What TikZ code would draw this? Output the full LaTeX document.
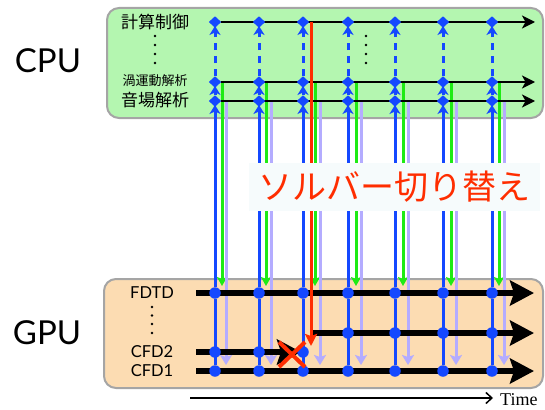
\documentclass[tikz,border=0pt]{standalone}
\usepackage{fontspec}
\setmainfont{Lato}
\newfontfamily\jpfont{Noto Sans CJK JP}
\newfontfamily\seriffont{Liberation Serif}
\usetikzlibrary{arrows.meta,shapes.geometric}
\pgfdeclarelayer{bg}
\pgfdeclarelayer{lines}
\pgfdeclarelayer{cover}
\pgfsetlayers{bg,lines,cover,main}
\definecolor{cpufill}{RGB}{180,246,176}
\definecolor{gpufill}{RGB}{252,220,178}
\definecolor{boxgray}{RGB}{165,165,165}
\definecolor{cblue}{RGB}{20,72,255}
\definecolor{cgreen}{RGB}{30,235,20}
\definecolor{clav}{RGB}{180,172,255}
\definecolor{cred}{RGB}{255,45,0}
\definecolor{coverfill}{RGB}{246,251,252}
\tikzset{
  panel/.style={draw=boxgray, line width=2pt, rounded corners=12pt},
  dia/.style={diamond, fill=cblue, inner sep=0pt, minimum width=12.5pt, minimum height=11.5pt},
  bdot/.style={circle, fill=cblue, inner sep=0pt, minimum size=11.5pt},
  cpuline/.style={black, line width=2pt, -{Stealth[length=13pt,width=13pt,inset=3.5pt]}},
  gpuline/.style={black, line width=6.5pt, -{Stealth[length=24pt,width=25pt,inset=4pt]}},
  blueline/.style={cblue, line width=3pt},
  bluearr/.style={cblue, line width=3pt, shorten >=-2pt, -{Stealth[length=9pt,width=11pt,inset=2.5pt]}},
  bluedash/.style={bluearr, dash pattern=on 7pt off 6pt},
  greenarr/.style={cgreen, line width=3pt, -{Stealth[length=9pt,width=10pt,inset=2pt]}},
  lavarr/.style={clav, line width=3pt, -{Stealth[length=10pt,width=12pt,inset=2pt]}},
  redarr/.style={cred, line width=3pt, -{Stealth[length=12pt,width=12pt,inset=2pt]}},
  timearr/.style={black, line width=1.5pt, -{Straight Barb[length=6pt,width=11pt]}},
  bigsans/.style={font=\fontsize{33}{36}\selectfont},
  gpulabel/.style={font=\fontsize{16.5}{18}\selectfont},
  jpbig/.style={font=\jpfont\fontsize{17}{19}\selectfont},
  jpsmall/.style={font=\jpfont\fontsize{13}{15}\selectfont},
  coverbox/.style={fill=coverfill, text=cred, inner sep=0pt, minimum width=291pt, minimum height=48pt, font=\jpfont\fontsize{34}{38}\selectfont},
  vdot/.style={circle, fill=black, inner sep=0pt, minimum size=2.8pt}
}
\begin{document}
\begin{tikzpicture}[x=1pt,y=-1pt]
\useasboundingbox (0,0) rectangle (545,409);
\begin{pgfonlayer}{bg}
  \draw[panel, fill=cpufill] (107,8) rectangle (543,118);
  \draw[panel, fill=gpufill] (104,279) rectangle (543,388);
\end{pgfonlayer}

% labels
\node[bigsans] (cpu) at (48,61) {CPU};
\node[bigsans] (gpu) at (47,333) {GPU};
\node[jpbig] (l1) at (155,22) {計算制御};
\node[jpsmall] (l2) at (155,81) {渦運動解析};
\node[jpbig] (l3) at (155,100) {音場解析};
\node[gpulabel] (fdtd) at (152,293) {FDTD};
\node[gpulabel] (cfd2) at (152,352) {CFD2};
\node[gpulabel] (cfd1) at (152,371) {CFD1};
\foreach \y [count=\k] in {36,45,54,63} {
  \node[vdot] (da\k) at (155,\y) {};
  \node[vdot] (db\k) at (366,\y) {};
}
\foreach \y [count=\k] in {307,315.5,324,333} {
  \node[vdot] (dc\k) at (152,\y) {};
}

% columns
\foreach \i/\x/\g/\l in {1/215/222/226,2/259/266/271,3/303/315/320,4/348/356/361,5/395/403/408,6/443/451/456,7/492/499/504}{
  \node[dia] (t\i) at (\x,22) {};
  \node[dia] (v\i) at (\x,82) {};
  \node[dia] (a\i) at (\x,101) {};
  \node[bdot] (f\i) at (\x,293) {};
  \node[bdot] (c\i) at (\x,371) {};
  \coordinate (gs\i) at (\g,81);
  \coordinate (ge\i) at (\g,286);
  \coordinate (ls\i) at (\l,101);
  \coordinate (le\i) at (\l,365);
  \begin{pgfonlayer}{lines}
    \draw[blueline] (f\i) -- (c\i);
    \draw[bluearr] (f\i) -- (a\i);
    \draw[bluearr] (a\i) -- (v\i);
    \draw[bluedash] (v\i) -- (t\i);
    \draw[greenarr] (gs\i) -- (ge\i);
    \draw[lavarr] (ls\i) -- (le\i);
  \end{pgfonlayer}
}
\foreach \i/\x in {1/215,2/259,3/303} \node[bdot] (m\i) at (\x,352) {};
\foreach \i/\x in {4/348,5/395,6/443,7/492} \node[bdot] (m\i) at (\x,333) {};

% black time lines
\coordinate (tend) at (535,22);
\coordinate (vend) at (535,82);
\coordinate (aend) at (535,101);
\coordinate (fs) at (196,293);
\coordinate (fe) at (534,293);
\coordinate (ms) at (313,333);
\coordinate (me) at (534,333);
\coordinate (c2s) at (196,352);
\coordinate (c2e) at (301,352);
\coordinate (c1s) at (196,371);
\coordinate (c1e) at (534,371);
\coordinate (rs) at (311,22);
\coordinate (re) at (311,346);
\begin{pgfonlayer}{lines}
  \draw[cpuline] (t1) -- (tend);
  \draw[cpuline] (v1) -- (vend);
  \draw[cpuline] (a1) -- (aend);
  \draw[gpuline] (fs) -- (fe);
  \draw[gpuline] (ms) -- (me);
  \draw[gpuline] (c2s) -- (c2e);
  \draw[gpuline] (c1s) -- (c1e);
  \draw[redarr] (rs) -- (re);
\end{pgfonlayer}

\begin{pgfonlayer}{cover}
  \node[coverbox] (switch) at (394.5,187) {ソルバー切り替え};
\end{pgfonlayer}

% red cross
\coordinate (x1) at (279,342);
\coordinate (x2) at (305,367);
\coordinate (x3) at (279,367);
\coordinate (x4) at (305,342);
\draw[cred, line width=4pt] (x1) -- (x2);
\draw[cred, line width=4pt] (x3) -- (x4);

% time axis
\coordinate (ts) at (190,398);
\coordinate (te) at (493,398);
\draw[timearr] (ts) -- (te);
\node[anchor=west, inner sep=0pt, font=\seriffont\fontsize{18}{20}\selectfont] (time) at (500,399.5) {Time};
\end{tikzpicture}
\end{document}
